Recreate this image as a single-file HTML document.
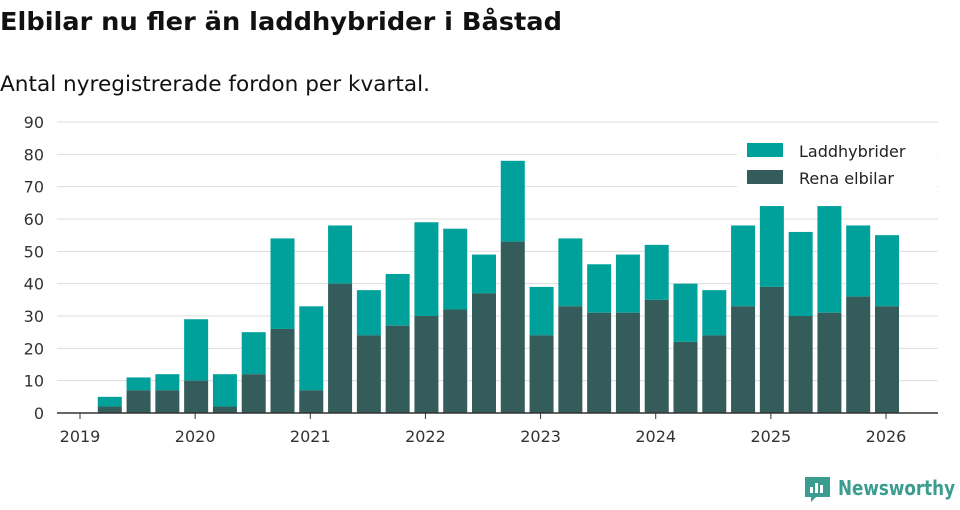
<!DOCTYPE html>
<html><head><meta charset="utf-8"><style>
body{margin:0;background:#fff;font-family:"Liberation Sans","DejaVu Sans",sans-serif;}
svg text{font-family:"DejaVu Sans","Liberation Sans",sans-serif;}
</style></head><body>
<svg id="chart" width="960" height="505" xmlns="http://www.w3.org/2000/svg">
<text x="0" y="30" font-size="25" font-weight="bold" fill="#111" textLength="562" lengthAdjust="spacingAndGlyphs">Elbilar nu fler än laddhybrider i Båstad</text>
<text x="0" y="91" font-size="21" fill="#111" textLength="430" lengthAdjust="spacingAndGlyphs">Antal nyregistrerade fordon per kvartal.</text>
<g id="grid"></g>
<g id="bars"></g>
<g id="xaxis"></g>
<g>
<rect x="737" y="137" width="200" height="54" fill="#fff"/>
<rect x="747" y="143" width="36" height="14" fill="#00a19a"/>
<text x="799" y="157" font-size="16" fill="#222">Laddhybrider</text>
<rect x="747" y="170" width="36" height="14" fill="#335c5a"/>
<text x="799" y="184" font-size="16" fill="#222">Rena elbilar</text>
</g>
<g>
<path d="M805 477h25v20h-14l-5 5v-5h-6z" fill="#3a9d8f"/>
<rect x="810" y="487" width="3" height="6" fill="#fff"/><rect x="815" y="483" width="3" height="10" fill="#fff"/><rect x="820" y="485" width="3" height="8" fill="#fff"/>
<text x="838" y="495" font-size="20" font-weight="bold" fill="#3a9d8f" textLength="117" lengthAdjust="spacingAndGlyphs">Newsworthy</text>
</g>
</svg>
<script>
const totals=[5,11,12,29,12,25,54,33,58,38,43,59,57,49,78,39,54,46,49,52,40,38,58,64,56,64,58,55];
const rena=[2,7,7,10,2,12,26,7,40,24,27,30,32,37,53,24,33,31,31,35,22,24,33,39,30,31,36,33];
const yTicks=[0,10,20,30,40,50,60,70,80,90];
const xYears=[2019,2020,2021,2022,2023,2024,2025,2026];
const NS="http://www.w3.org/2000/svg";
const y0=413,yTop=122,ymax=90;
const y=v=>y0-(y0-yTop)*v/ymax;
const x2019=80,yearW=(886-80)/7;
const x=q=>x2019+q*yearW/4;
function el(t,a,p){const e=document.createElementNS(NS,t);for(const k in a)e.setAttribute(k,a[k]);p.appendChild(e);return e;}
const grid=document.getElementById('grid');
yTicks.forEach(v=>{
 const l=el('line',{x1:57,x2:938,y1:y(v),y2:y(v),stroke:'#ddd','stroke-width':1},grid);
 
 
 const t=el('text',{x:44,y:y(v)+6,'text-anchor':'end','font-size':16,fill:'#333'},grid);
 t.textContent=v;
 
 
});
const bars=document.getElementById('bars');
const bw=24;
totals.forEach((tot,i)=>{
 const cx=x(i+1)+1;
 const r=rena[i];
 const a=el('rect',{x:cx-bw/2,y:y(tot),width:bw,height:y(r)-y(tot),fill:'#00a19a'},bars);
 
 
 const b=el('rect',{x:cx-bw/2,y:y(r),width:bw,height:y0-y(r),fill:'#335c5a'},bars);
 
 
});
const xa=document.getElementById('xaxis');
el('line',{x1:57,x2:938,y1:y0,y2:y0,stroke:'#333','stroke-width':1.5},xa);
xYears.forEach((yr,i)=>{
 const xx=x(i*4);
 el('line',{x1:xx,x2:xx,y1:y0,y2:y0+6,stroke:'#333'},xa);
 const t=el('text',{x:xx,y:y0+29,'text-anchor':'middle','font-size':16,fill:'#333'},xa);
 t.textContent=yr;
 
 
});
</script>
</body></html>
